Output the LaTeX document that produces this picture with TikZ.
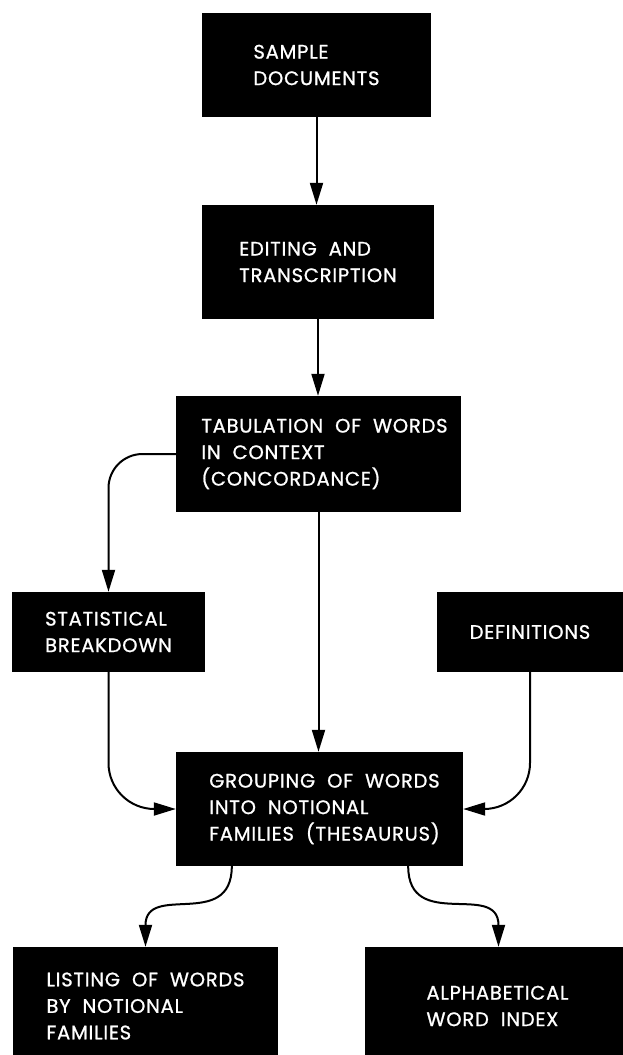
\documentclass[tikz,border=0pt]{standalone}
\usepackage{fontspec}
\newfontfamily\boxfont[LetterSpace=4,WordSpace=2,FakeBold=1]{Poppins}
\usetikzlibrary{arrows.meta,calc}
\tikzset{
  box/.style={fill=black, draw=none, inner sep=0pt, text=white, align=left,
    font=\boxfont\fontsize{19.5}{26.5}\selectfont},
  arr/.style={line width=2pt, -{Triangle[length=22pt,width=13pt]}},
}
\begin{document}
\begin{tikzpicture}[x=1pt,y=-1pt]
\useasboundingbox (0,0) rectangle (623,1055);
\node[box, minimum width=229pt, minimum height=104pt] (b1) at (316.5,65) {SAMPLE\\DOCUMENTS};
\node[box, minimum width=232pt, minimum height=114pt] (b2) at (318,262) {EDITING AND\\TRANSCRIPTION};
\node[box, minimum width=285pt, minimum height=116pt] (b3) at (318.5,454) {\hspace*{12pt}TABULATION OF WORDS\\\hspace*{12pt}IN CONTEXT\\\hspace*{12pt}(CONCORDANCE)};
\node[box, minimum width=193pt, minimum height=80pt] (stat) at (108.5,632) {STATISTICAL\\BREAKDOWN};
\node[box, minimum width=186pt, minimum height=80pt] (def) at (530,632) {DEFINITIONS};
\node[box, minimum width=287pt, minimum height=114pt] (group) at (319.5,809) {\hspace*{10pt}GROUPING OF WORDS\\\hspace*{10pt}INTO NOTIONAL\\\hspace*{10pt}FAMILIES (THESAURUS)};
\node[box, minimum width=265pt, minimum height=118pt] (list) at (145.5,1006) {LISTING OF WORDS\\BY NOTIONAL\\FAMILIES};
\node[box, minimum width=265pt, minimum height=118pt] (alph) at (497.5,1006) {ALPHABETICAL\\WORD INDEX};

\coordinate (g1) at ($(group.south west)+(56,0)$);
\coordinate (g2) at ($(group.south east)+(-55,0)$);
\coordinate (a1) at ($(alph.north)+(1,0)$);

\draw[arr] (b1.south) -- (b1.south |- b2.north);
\draw[arr] (b2.south) -- (b2.south |- b3.north);
\draw[arr] (b3.south) -- (b3.south |- group.north);
\draw[arr, rounded corners=34pt] (b3.west) -| (stat.north);
\draw[arr, rounded corners=46pt] (stat.south) |- (group.west);
\draw[arr, rounded corners=46pt] (def.south) |- (group.east);
\draw[arr] (g1) to[out=-90,in=90,looseness=1.4] (list.north);
\draw[arr] (g2) to[out=-90,in=90,looseness=1.4] (a1);
\end{tikzpicture}
\end{document}
